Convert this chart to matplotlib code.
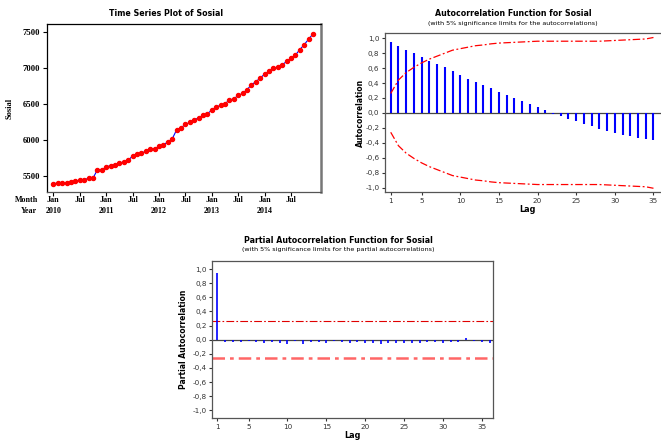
import numpy as np
import matplotlib
matplotlib.use("Agg")
import matplotlib.pyplot as plt
from matplotlib.ticker import FuncFormatter

# Monthly series Jan 2010 - Dec 2014
sosial = [5400, 5405, 5405, 5405, 5415, 5435, 5445, 5450, 5475, 5475, 5590, 5590,
          5630, 5650, 5655, 5690, 5695, 5720, 5785, 5810, 5825, 5845, 5875, 5885,
          5915, 5940, 5975, 6020, 6145, 6175, 6220, 6250, 6280, 6315, 6345, 6370,
          6420, 6465, 6485, 6510, 6560, 6575, 6625, 6650, 6705, 6770, 6815, 6865,
          6920, 6960, 7000, 7020, 7050, 7095, 7140, 7185, 7260, 7330, 7405, 7480]
month_ticks = [0, 6, 12, 18, 24, 30, 36, 42, 48, 54]
month_labels = ['Jan', 'Jul'] * 5
year_labels = ['2010', '2011', '2012', '2013', '2014']

# ACF lags 1..35 and 5% limits
acf_vals = [0.947, 0.90, 0.846, 0.80, 0.75, 0.70, 0.653, 0.61, 0.56, 0.505,
            0.46, 0.41, 0.37, 0.327, 0.277, 0.237, 0.197, 0.157, 0.116, 0.076,
            0.04, -0.01, -0.04, -0.076, -0.107, -0.148, -0.18, -0.21, -0.24, -0.268,
            -0.29, -0.313, -0.33, -0.35, -0.362]
acf_limit = [0.26, 0.44, 0.54, 0.61, 0.67, 0.72, 0.76, 0.80, 0.84, 0.86,
             0.88, 0.90, 0.91, 0.925, 0.935, 0.94, 0.945, 0.95, 0.955, 0.96,
             0.96, 0.96, 0.96, 0.96, 0.96, 0.96, 0.96, 0.96, 0.965, 0.97,
             0.975, 0.98, 0.985, 0.99, 1.01]

# PACF lags 1..36 and 5% limit
pacf_vals = [0.95, -0.03, -0.035, -0.03, -0.02, -0.035, -0.045, -0.035, -0.04, -0.055,
             -0.02, -0.06, -0.03, -0.035, -0.045, -0.02, -0.035, -0.04, -0.035, -0.045,
             -0.045, -0.055, -0.045, -0.04, -0.045, -0.04, -0.045, -0.03, -0.03, -0.045,
             -0.03, -0.035, 0.025, -0.02, -0.035, -0.045]
pacf_limit = 0.26

W, H = 661, 442
fig = plt.figure(figsize=(W / 100, H / 100), dpi=100)
fig.patch.set_facecolor('white')
font = 'DejaVu Sans'
serif = 'Liberation Serif'


def box(l, t, r, b):
    return [l / W, 1 - b / H, (r - l) / W, (b - t) / H]


def ftext(x, y, s, **kw):
    fig.text(x / W, 1 - y / H, s, **kw)


comma = FuncFormatter(lambda v, p: f"{round(v, 1) + 0.0:.1f}".replace('.', ','))
corr_ticks = [-1.0, -0.8, -0.6, -0.4, -0.2, 0.0, 0.2, 0.4, 0.6, 0.8, 1.0]

# ---- Time series plot
ax1 = fig.add_axes(box(47, 24, 321, 192))
t = np.arange(len(sosial))
ax1.plot(t, sosial, color='blue', lw=0.8, zorder=2)
ax1.plot(t, sosial, 'o', color='red', ms=2.9, mec='red', zorder=3)
ax1.set_xlim(-1.45, 60.8)
ax1.set_ylim(5282, 7615)
ax1.set_yticks([5500, 6000, 6500, 7000, 7500])
ax1.set_xticks(month_ticks)
ax1.set_xticklabels([])
for lab in ax1.get_yticklabels():
    lab.set_fontfamily(serif)
    lab.set_fontweight('bold')
ax1.tick_params(axis='y', labelsize=6.2, length=3, pad=2)
ax1.tick_params(axis='x', length=3)
for s in ax1.spines.values():
    s.set_linewidth(0.9)
ax1.spines['right'].set_color('#777777')
ax1.spines['right'].set_linewidth(1.8)
ax1.spines['bottom'].set_color('#555555')
for i, lab in zip(month_ticks, month_labels):
    xpix = 53.3 + i * 4.407
    ftext(xpix, 200, lab, fontsize=5.8, fontfamily=serif, fontweight='bold',
          ha='center', va='center')
for i, lab in zip([0, 12, 24, 36, 48], year_labels):
    xpix = 53.3 + i * 4.407
    ftext(xpix, 211, lab, fontsize=5.8, fontfamily=serif, fontweight='bold',
          ha='center', va='center')
ftext(38, 200, 'Month', fontsize=5.8, fontfamily=serif, fontweight='bold', ha='right', va='center')
ftext(37, 211, 'Year', fontsize=5.8, fontfamily=serif, fontweight='bold', ha='right', va='center')
ftext(10, 108, 'Sosial', fontsize=6, fontfamily=serif, fontweight='bold',
      rotation=90, ha='center', va='center')
ftext(166, 14, 'Time Series Plot of Sosial', fontsize=5.7, fontfamily=font,
      fontweight='bold', ha='center', va='center')

# ---- ACF
ax2 = fig.add_axes(box(385, 33, 667, 192))
lags = np.arange(1, len(acf_vals) + 1)
ax2.vlines(lags, 0, acf_vals, color='blue', lw=1.5, zorder=2)
ax2.axhline(0, color='#444444', lw=0.9, zorder=1)
ax2.plot(lags, acf_limit, color='red', lw=0.9, dashes=(6, 2, 1.5, 2))
ax2.plot(lags, [-v for v in acf_limit], color='red', lw=0.9, dashes=(6, 2, 1.5, 2))
ax2.set_xlim(0.26, 36.75)
ax2.set_ylim(-1.06, 1.07)
ax2.set_yticks(corr_ticks)
ax2.yaxis.set_major_formatter(comma)
ax2.set_xticks([1, 5, 10, 15, 20, 25, 30, 35])
ax2.tick_params(labelsize=5.2, length=2.5, pad=1.5, colors='#333333')
for s in ax2.spines.values():
    s.set_linewidth(0.9)
    s.set_color('#555555')
ftext(360, 113, 'Autocorrelation', fontsize=5.5, fontfamily=font, fontweight='bold',
      rotation=90, ha='center', va='center')
ftext(527, 210, 'Lag', fontsize=5.8, fontfamily=font, fontweight='bold', ha='center', va='center')
ftext(513, 14, 'Autocorrelation Function for Sosial', fontsize=5.7, fontfamily=font,
      fontweight='bold', ha='center', va='center')
ftext(513, 23, '(with 5% significance limits for the autocorrelations)', fontsize=4.6,
      fontfamily=font, ha='center', va='center')

# ---- PACF
ax3 = fig.add_axes(box(212.5, 260.7, 493, 418))
plags = np.arange(1, len(pacf_vals) + 1)
ax3.vlines(plags, 0, pacf_vals, color='blue', lw=1.2, zorder=3)
ax3.axhline(0, color='#444444', lw=0.9, zorder=1)
ax3.axhline(pacf_limit, color='#e00000', lw=0.8, dashes=(7, 2, 1.5, 2))
ax3.axhline(-pacf_limit, color='#ff6666', lw=1.8, dashes=(5, 2, 1.5, 2))
ax3.set_xlim(0.36, 36.45)
ax3.set_ylim(-1.11, 1.12)
ax3.set_yticks(corr_ticks)
ax3.yaxis.set_major_formatter(comma)
ax3.set_xticks([1, 5, 10, 15, 20, 25, 30, 35])
ax3.tick_params(labelsize=5.2, length=2.5, pad=1.5, colors='#333333')
for s in ax3.spines.values():
    s.set_linewidth(0.9)
    s.set_color('#555555')
ftext(184, 339, 'Partial Autocorrelation', fontsize=5.5, fontfamily=font, fontweight='bold',
      rotation=90, ha='center', va='center')
ftext(352, 436, 'Lag', fontsize=5.8, fontfamily=font, fontweight='bold', ha='center', va='center')
ftext(338, 241, 'Partial Autocorrelation Function for Sosial', fontsize=5.7, fontfamily=font,
      fontweight='bold', ha='center', va='center')
ftext(338, 250, '(with 5% significance limits for the partial autocorrelations)', fontsize=4.6,
      fontfamily=font, ha='center', va='center')

fig.savefig('out.png', dpi=100, facecolor='white')
